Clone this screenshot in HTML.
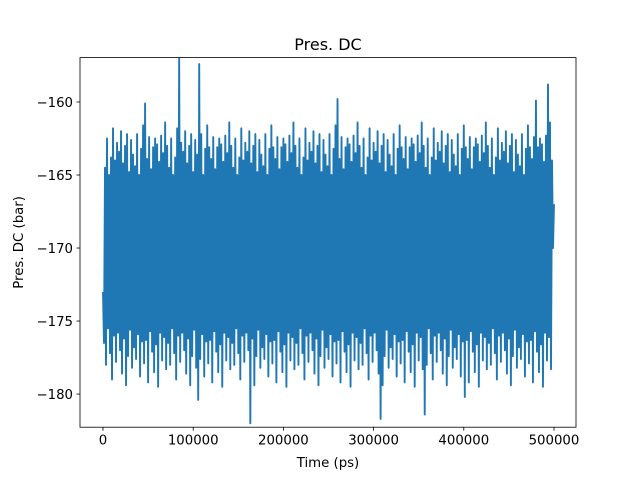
<!DOCTYPE html>
<html><head><meta charset="utf-8"><style>
html,body{margin:0;padding:0;background:#fff;}
svg{display:block;font-family:"DejaVu Sans","Liberation Sans",sans-serif;}
</style></head><body>
<svg id="chart" width="640" height="480" viewBox="0 0 640 480"></svg>
<script>
const xTicks=[0,100000,200000,300000,400000,500000];
const xTickLabels=["0","100000","200000","300000","400000","500000"];
const yTicks=[-160,-165,-170,-175,-180];
const yTickLabels=["\u2212160","\u2212165","\u2212170","\u2212175","\u2212180"];
const timeStart=0;
const timeEnd=500000;
const pressureValues=[
-173,-176.5,-164.5,-178,-162.5,-175.5,-165,-177.2,-163.8,-179,-161.8,-176,-164,-177.8,-162.8,-175.8,
-163.4,-177,-162,-178.6,-164.2,-176.2,-163,-179.4,-162.2,-177.4,-164.8,-175.6,-162.6,-178.2,-163.6,-176.8,
-164.4,-177.6,-162.2,-175.9,-165,-178.8,-163.2,-176.4,-161.6,-177.9,-160.1,-176.3,-163.9,-179.2,-162.4,-175.7,
-164.6,-177.1,-163.1,-178.5,-162.5,-176.6,-162.9,-179.5,-164.1,-175.8,-162.3,-177.7,-163.5,-176.1,-161.4,-178.3,
-163,-176.5,-164.5,-178,-162.5,-175.5,-165,-177.2,-163.8,-179,-161.8,-176,-157,-177.8,-162.8,-175.8,
-163.4,-177,-162,-178.6,-164.2,-176.2,-163,-179.4,-162.2,-177.4,-164.8,-175.6,-162.6,-178.2,-163.6,-180.4,
-157.4,-177.6,-162.2,-175.9,-165,-178.8,-163.2,-176.4,-161.6,-177.9,-163.1,-176.3,-163.9,-179.2,-162.4,-175.7,
-164.6,-177.1,-163.1,-178.5,-162.5,-176.6,-162.9,-179.5,-164.1,-175.8,-162.3,-177.7,-163.5,-176.1,-161.4,-178.3,
-163,-176.5,-164.5,-178,-162.5,-175.5,-165,-177.2,-163.8,-179,-161.8,-176,-164,-177.8,-162.8,-175.8,
-163.4,-177,-162,-182,-164.2,-176.2,-163,-179.4,-162.2,-177.4,-164.8,-175.6,-162.6,-178.2,-163.6,-176.8,
-164.4,-177.6,-162.2,-175.9,-165,-178.8,-163.2,-176.4,-161.6,-177.9,-163.1,-176.3,-163.9,-179.2,-162.4,-175.7,
-164.6,-177.1,-163.1,-178.5,-162.5,-176.6,-162.9,-179.5,-164.1,-175.8,-162.3,-177.7,-163.5,-176.1,-161.4,-178.3,
-163,-176.5,-164.5,-178,-162.5,-175.5,-165,-177.2,-163.8,-179,-161.8,-176,-164,-177.8,-162.8,-175.8,
-163.4,-177,-162,-178.6,-164.2,-176.2,-163,-179.4,-162.2,-177.4,-164.8,-175.6,-162.6,-178.2,-163.6,-176.8,
-164.4,-177.6,-162.2,-175.9,-165,-178.8,-163.2,-176.4,-161.6,-177.9,-159.8,-176.3,-163.9,-179.2,-162.4,-175.7,
-164.6,-177.1,-163.1,-178.5,-162.5,-176.6,-162.9,-179.5,-164.1,-175.8,-162.3,-177.7,-163.5,-176.1,-161.4,-178.3,
-163,-176.5,-164.5,-178,-162.5,-175.5,-165,-177.2,-163.8,-179,-161.8,-176,-164,-177.8,-162.8,-175.8,
-163.4,-177,-162,-178.6,-164.2,-181.7,-163,-179.4,-162.2,-177.4,-164.8,-175.6,-162.6,-178.2,-163.6,-176.8,
-164.4,-177.6,-162.2,-175.9,-165,-178.8,-163.2,-176.4,-161.6,-177.9,-163.1,-176.3,-163.9,-179.2,-162.4,-175.7,
-164.6,-177.1,-163.1,-178.5,-162.5,-176.6,-162.9,-179.5,-164.1,-175.8,-162.3,-177.7,-163.5,-176.1,-161.4,-178.3,
-163,-181.4,-164.5,-178,-162.5,-175.5,-165,-177.2,-163.8,-179,-161.8,-176,-164,-177.8,-162.8,-175.8,
-163.4,-177,-162,-178.6,-164.2,-176.2,-163,-179.4,-162.2,-177.4,-164.8,-175.6,-162.6,-178.2,-163.6,-176.8,
-164.4,-177.6,-162.2,-175.9,-165,-178.8,-163.2,-176.4,-161.6,-180.2,-163.1,-176.3,-163.9,-179.2,-162.4,-175.7,
-164.6,-177.1,-163.1,-178.5,-162.5,-176.6,-162.9,-179.5,-164.1,-175.8,-162.3,-177.7,-163.5,-176.1,-161.4,-178.3,
-163,-176.5,-164.5,-178,-162.5,-175.5,-165,-177.2,-163.8,-179,-161.8,-176,-164,-177.8,-162.8,-175.8,
-163.4,-177,-162,-178.6,-164.2,-176.2,-163,-179.4,-162.2,-177.4,-164.8,-175.6,-162.6,-178.2,-163.6,-176.8,
-164.4,-177.6,-162.2,-175.9,-165,-178.8,-163.2,-176.4,-161.6,-177.9,-163.1,-176.3,-163.9,-179.2,-162.4,-175.7,
-159.9,-177.1,-163.1,-178.5,-162.5,-176.6,-162.9,-179.5,-164.1,-175.8,-162.3,-177.7,-158.8,-176.1,-161.4,-178.3,
-164,-170,-167
];
const svg=document.getElementById('chart');
const NS='http://www.w3.org/2000/svg';
const L=80,R=576,T=57.6,B=427.2;
const xMin=-25500,xMax=524400,yMin=-182.27,yMax=-156.96;
function xs(v){return L+(v-xMin)/(xMax-xMin)*(R-L);}
function ys(v){return B-(v-yMin)/(yMax-yMin)*(B-T);}
function mk(tag,attrs){const e=document.createElementNS(NS,tag);for(const k in attrs)e.setAttribute(k,attrs[k]);svg.appendChild(e);return e;}
const defs=mk('defs',{});
const cp=document.createElementNS(NS,'clipPath');cp.setAttribute('id','clip');defs.appendChild(cp);
const cr=document.createElementNS(NS,'rect');cr.setAttribute('x',L);cr.setAttribute('y',T);cr.setAttribute('width',R-L);cr.setAttribute('height',B-T);cp.appendChild(cr);
const n=pressureValues.length;
let d='';
pressureValues.forEach((v,i)=>{const t=timeStart+(timeEnd-timeStart)*i/(n-1);d+=(i?'L':'M')+xs(t).toFixed(2)+','+ys(v).toFixed(2);});
const line=mk('path',{d:d,fill:'none',stroke:'#1f77b4','stroke-width':1.9,'stroke-linejoin':'round','clip-path':'url(#clip)'});


const fr=mk('rect',{x:L,y:T,width:R-L,height:B-T,fill:'none',stroke:'#000','stroke-width':0.8});


xTicks.forEach((v,i)=>{
  const x=xs(v);
  const t=mk('line',{x1:x,x2:x,y1:B,y2:B+3.5,stroke:'#000','stroke-width':0.8});
  
  
  const lb=mk('text',{x:x,y:B+17.5,'text-anchor':'middle','font-size':'13.3px'});
  lb.textContent=xTickLabels[i];
  
  
});
yTicks.forEach((v,i)=>{
  const y=ys(v);
  const t=mk('line',{x1:L-3.5,x2:L,y1:y,y2:y,stroke:'#000','stroke-width':0.8});
  
  
  const lb=mk('text',{x:L-7,y:y+4.8,'text-anchor':'end','font-size':'13.3px'});
  lb.textContent=yTickLabels[i];
  
  
});
const xt=mk('text',{x:(L+R)/2,y:467,'text-anchor':'middle','font-size':'13.3px'});
xt.textContent='Time (ps)';


const yt=mk('text',{x:0,y:0,'text-anchor':'middle','font-size':'13.3px',transform:'translate(23,'+((T+B)/2)+') rotate(-90)'});
yt.textContent='Pres. DC (bar)';


const tt=mk('text',{x:(L+R)/2,y:50,'text-anchor':'middle','font-size':'16px'});
tt.textContent='Pres. DC';


</script>
</body></html>
